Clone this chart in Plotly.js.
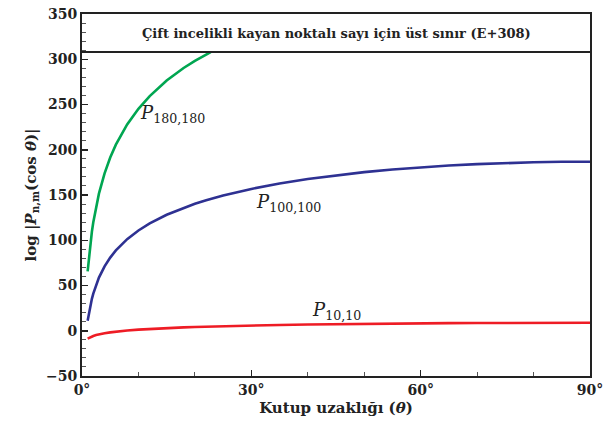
<!DOCTYPE html>
<html><head><meta charset="utf-8">
<script src="https://cdn.plot.ly/plotly-3.0.1.min.js"></script>
<style>html,body{margin:0;padding:0;background:#fff}#c{width:611px;height:427px}</style>
</head><body><div id="c"></div>
<script>
// polar distance (degrees)
const thetaA = [1,1.25,1.5,1.75,2,2.5,3,4,5,6,7,8,10,12,15,18,20,22,25,30,35,40,45,50,55,60,65,70,75,80,85,90];
const p10 = [-8.77,-7.80,-7.00,-6.34,-5.76,-4.79,-4.00,-2.75,-1.78,-0.99,-0.33,0.25,1.21,2.00,2.95,3.72,4.16,4.55,5.08,5.81,6.40,6.90,7.31,7.66,7.95,8.19,8.39,8.55,8.67,8.75,8.80,8.82];
const p100 = [11.01,20.70,28.61,35.31,41.11,50.79,58.70,71.18,80.85,88.75,95.41,101.18,110.79,118.61,128.12,135.82,140.23,144.18,149.42,156.72,162.68,167.63,171.77,175.25,178.16,180.58,182.55,184.12,185.32,186.16,186.66,186.82];
const thetaG = [1,1.25,1.5,1.75,2,2.5,3,4,5,6,7,8,10,12,15,18,20,22,22.8];
const p180 = [65.65,83.09,97.34,109.38,119.82,137.25,151.50,173.96,191.37,205.58,217.58,227.95,245.26,259.33,276.45,290.31,298.24,305.36,308.0];
const limit = 308;
const xTicks = [0,30,60,90];
const xTickText = ['0°','30°','60°','90°'];
const yTicks = [-50,0,50,100,150,200,250,300,350];

const F = '"DejaVu Serif", "Liberation Serif", serif';
const traces = [
  {x: thetaA, y: p10, mode:'lines', line:{color:'#ee1c25', width:2.6}, hoverinfo:'skip'},
  {x: thetaA, y: p100, mode:'lines', line:{color:'#2e3192', width:2.6}, hoverinfo:'skip'},
  {x: thetaG, y: p180, mode:'lines', line:{color:'#00a651', width:2.6}, hoverinfo:'skip'}
];
const axBase = {showgrid:false, zeroline:false, showline:true, mirror:true, linecolor:'#222', linewidth:2,
  ticks:'inside', tickcolor:'#222', tickwidth:1.5, ticklen:6, tickfont:{family:F, size:14, color:'#222', weight:'bold'}};
const layout = {
  width:611, height:427, showlegend:false,
  paper_bgcolor:'#fff', plot_bgcolor:'#fff',
  margin:{l:82, r:21, t:14, b:51},
  xaxis: Object.assign({}, axBase, {range:[0,90], tickvals:xTicks, ticktext:xTickText,
     minor:{dtick:10, ticks:'inside', ticklen:4, tickcolor:'#555', tickwidth:1},
     title:{text:'Kutup uzaklığı (<i>θ</i>)', font:{family:F, size:15, color:'#222', weight:'bold'}, standoff:6}}),
  yaxis: Object.assign({}, axBase, {range:[-50,350], tickvals:yTicks,
     minor:{dtick:10, ticks:'inside', ticklen:4, tickcolor:'#555', tickwidth:1},
     title:{text:'log |<i>P</i><sub>n,m</sub>(cos <i>θ</i>)|', font:{family:F, size:15, color:'#222', weight:'bold'}, standoff:6}}),
  shapes:[{type:'line', xref:'paper', x0:0, x1:1, yref:'y', y0:limit, y1:limit, line:{color:'#222', width:2}}],
  annotations:[
    {x:45, y:329, xref:'x', yref:'y', showarrow:false, text:'Çift incelikli kayan noktalı sayı için üst sınır (E+308)', font:{family:F, size:13, color:'#222', weight:'bold'}},
    {x:16, y:240, xref:'x', yref:'y', showarrow:false, text:'<i>P</i><sub>180,180</sub>', font:{family:F, size:18, color:'#222'}},
    {x:36.5, y:141, xref:'x', yref:'y', showarrow:false, text:'<i>P</i><sub>100,100</sub>', font:{family:F, size:18, color:'#222'}},
    {x:45, y:22, xref:'x', yref:'y', showarrow:false, text:'<i>P</i><sub>10,10</sub>', font:{family:F, size:18, color:'#222'}}
  ]
};
Plotly.newPlot('c', traces, layout, {displayModeBar:false, staticPlot:true});
</script></body></html>
